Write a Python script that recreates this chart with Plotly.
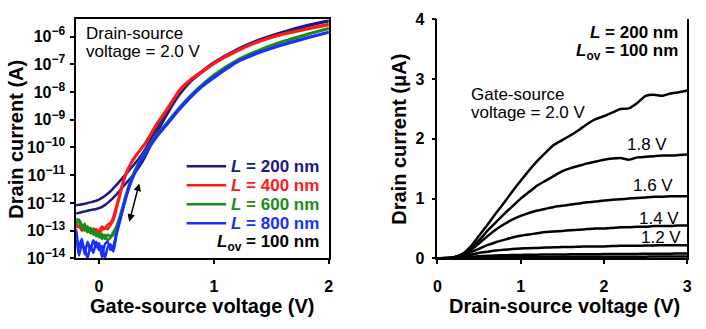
import numpy as np
import plotly.graph_objects as go

# ---------------- Left panel: transfer curves (log10 of drain current, A) ----------------
vgs = [-0.2, -0.175, -0.15, -0.125, -0.1, -0.075, -0.05, -0.025, 0.0, 0.025, 0.05, 0.075,
       0.1, 0.125, 0.15, 0.175, 0.2, 0.225, 0.25, 0.275, 0.3, 0.35, 0.4, 0.5, 0.6, 0.7,
       0.8, 0.9, 1.0, 1.2, 1.4, 1.6, 1.8, 2.0]

log_id_L200_a = [-12.08, -12.07, -12.05, -12.03, -12.0, -11.98, -11.95, -11.92, -11.88, -11.82, -11.75, -11.67,
                 -11.58, -11.47, -11.36, -11.24, -11.12, -11.0, -10.88, -10.76, -10.64, -10.38, -10.08, -9.32,
                 -8.62, -8.02, -7.57, -7.23, -6.93, -6.46, -6.1, -5.83, -5.6, -5.42]
log_id_L200_b = [-12.38, -12.36, -12.33, -12.31, -12.28, -12.26, -12.24, -12.22, -12.19, -12.14, -12.08, -12.0,
                 -11.91, -11.81, -11.7, -11.58, -11.46, -11.34, -11.22, -11.1, -10.98, -10.7, -10.35, -9.5,
                 -8.75, -8.1, -7.62, -7.28, -6.98, -6.5, -6.14, -5.87, -5.64, -5.45]
log_id_L400_a = [-12.75, -12.88, -12.8, -12.98, -12.85, -13.05, -12.92, -12.97, -13.0, -12.85, -12.93, -12.78,
                 -12.72, -12.5, -12.12, -11.74, -11.36, -11.02, -10.77, -10.57, -10.4, -10.12, -9.85, -9.15,
                 -8.55, -7.92, -7.53, -7.24, -6.95, -6.5, -6.15, -5.9, -5.72, -5.55]
log_id_L400_b = [-12.9, -12.82, -13.0, -12.88, -13.05, -12.92, -13.1, -12.95, -13.08, -12.98, -12.9, -12.95,
                 -12.8, -12.62, -12.25, -11.85, -11.45, -11.1, -10.83, -10.62, -10.45, -10.15, -9.88, -9.2,
                 -8.6, -7.97, -7.57, -7.27, -6.98, -6.53, -6.18, -5.93, -5.75, -5.58]
log_id_L600_a = [-12.55, -12.7, -12.9, -12.75, -13.05, -12.9, -13.15, -13.05, -13.25, -13.1, -13.3, -13.15,
                 -13.2, -13.05, -12.85, -12.55, -12.2, -11.83, -11.48, -11.18, -10.93, -10.5, -10.15, -9.55,
                 -9.05, -8.55, -8.1, -7.72, -7.38, -6.85, -6.47, -6.17, -5.92, -5.7]
log_id_L600_b = [-12.75, -12.6, -12.8, -13.0, -12.85, -13.1, -12.95, -13.2, -13.1, -13.3, -13.15, -13.35,
                 -13.25, -13.15, -12.95, -12.65, -12.3, -11.92, -11.56, -11.25, -10.98, -10.55, -10.2, -9.6,
                 -9.1, -8.6, -8.14, -7.75, -7.42, -6.88, -6.5, -6.2, -5.95, -5.72]
log_id_L800_a = [-12.95, -13.6, -13.3, -13.85, -13.4, -13.7, -13.35, -13.6, -13.45, -13.95, -13.5, -13.4,
                 -13.7, -13.55, -13.1, -12.7, -12.3, -11.9, -11.55, -11.25, -11.0, -10.55, -10.2, -9.6,
                 -9.1, -8.6, -8.15, -7.76, -7.45, -6.9, -6.55, -6.28, -6.05, -5.83]
log_id_L800_b = [-13.1, -13.9, -13.5, -13.65, -14.0, -13.55, -13.8, -13.4, -13.7, -13.55, -14.0, -13.6,
                 -13.5, -13.75, -13.2, -12.78, -12.38, -11.98, -11.62, -11.3, -11.05, -10.6, -10.25, -9.64,
                 -9.14, -8.64, -8.19, -7.8, -7.49, -6.93, -6.58, -6.31, -6.07, -5.85]

lengths = ["200", "400", "600", "800"]
colors = ["#1a1a80", "#ff1a1a", "#1a8c1a", "#1a2eff"]
left_series = [(log_id_L200_a, log_id_L200_b), (log_id_L400_a, log_id_L400_b),
               (log_id_L600_a, log_id_L600_b), (log_id_L800_a, log_id_L800_b)]
y_ticks_left = [1e-14, 1e-13, 1e-12, 1e-11, 1e-10, 1e-9, 1e-8, 1e-7, 1e-6]
y_tick_exponents = ["\u221214", "\u221213", "\u221212", "\u221211", "\u221210",
                    "\u22129", "\u22128", "\u22127", "\u22126"]

# ---------------- Right panel: output curves (drain current, uA) ----------------
vds = [0.0, 0.1, 0.2, 0.3, 0.4, 0.5, 0.6, 0.7, 0.8, 0.9, 1.0, 1.1, 1.2, 1.3, 1.4, 1.5,
       1.6, 1.7, 1.8, 1.9, 2.0, 2.1, 2.2, 2.3, 2.4, 2.5, 2.6, 2.7, 2.8, 2.9, 3.0]
id_vgs_2_0 = [0.0, 0.005, 0.02, 0.07, 0.2, 0.38, 0.56, 0.75, 0.93, 1.12, 1.3, 1.47, 1.63, 1.77, 1.9, 1.98,
              2.06, 2.15, 2.25, 2.33, 2.38, 2.44, 2.5, 2.51, 2.6, 2.72, 2.74, 2.72, 2.76, 2.78, 2.81]
id_vgs_1_8 = [0.0, 0.005, 0.02, 0.07, 0.17, 0.3, 0.46, 0.6, 0.74, 0.87, 1.0, 1.11, 1.22, 1.3, 1.38, 1.46,
              1.51, 1.55, 1.59, 1.62, 1.65, 1.67, 1.68, 1.65, 1.69, 1.7, 1.71, 1.72, 1.72, 1.73, 1.74]
id_vgs_1_6 = [0.0, 0.004, 0.02, 0.06, 0.14, 0.25, 0.37, 0.48, 0.57, 0.65, 0.71, 0.76, 0.8, 0.83, 0.86, 0.88,
              0.9, 0.92, 0.94, 0.95, 0.97, 0.98, 0.99, 1.0, 1.01, 1.02, 1.03, 1.03, 1.04, 1.04, 1.04]
id_vgs_1_4 = [0.0, 0.003, 0.015, 0.05, 0.1, 0.16, 0.22, 0.27, 0.31, 0.35, 0.38, 0.4, 0.42, 0.44, 0.45, 0.46,
              0.47, 0.48, 0.49, 0.5, 0.5, 0.51, 0.52, 0.52, 0.53, 0.53, 0.54, 0.54, 0.54, 0.55, 0.55]
id_vgs_1_2 = [0.0, 0.002, 0.01, 0.035, 0.06, 0.09, 0.11, 0.13, 0.145, 0.155, 0.165, 0.17, 0.175, 0.18, 0.185,
              0.19, 0.19, 0.195, 0.2, 0.2, 0.2, 0.205, 0.21, 0.21, 0.21, 0.215, 0.215, 0.22, 0.22, 0.22, 0.22]
id_vgs_1_0 = [0.0, 0.001, 0.005, 0.015, 0.025, 0.035, 0.042, 0.048, 0.052, 0.055, 0.058, 0.06, 0.062, 0.064,
              0.065, 0.066, 0.067, 0.068, 0.069, 0.07, 0.071, 0.072, 0.073, 0.074, 0.075, 0.076, 0.077, 0.078,
              0.079, 0.08, 0.08]
id_vgs_0_8 = [0.0, 0.0005, 0.002, 0.005, 0.009, 0.012, 0.015, 0.017, 0.019, 0.02, 0.021, 0.022, 0.023, 0.024,
              0.024, 0.025, 0.025, 0.026, 0.026, 0.027, 0.027, 0.028, 0.028, 0.028, 0.029, 0.029, 0.03, 0.03,
              0.03, 0.031, 0.031]
right_series = [id_vgs_2_0, id_vgs_1_8, id_vgs_1_6, id_vgs_1_4, id_vgs_1_2, id_vgs_1_0, id_vgs_0_8]

FONT = "Liberation Sans, Arial, sans-serif"
W, H = 706, 329


def px(x):
    return x / W


def py(y):
    return 1 - y / H


fig = go.Figure()

for (a, b), col in zip(left_series, colors):
    for s in (a, b):
        fig.add_trace(go.Scatter(x=vgs, y=10 ** np.array(s), mode="lines",
                                 line=dict(color=col, width=2.5, shape="spline", smoothing=0.6),
                                 showlegend=False, xaxis="x", yaxis="y"))

for s in right_series:
    fig.add_trace(go.Scatter(x=vds, y=s, mode="lines",
                             line=dict(color="black", width=2.5, shape="spline", smoothing=0.5),
                             showlegend=False, xaxis="x2", yaxis="y2"))

axis_common = dict(showgrid=False, zeroline=False, showline=True, linecolor="black", linewidth=1.5,
                   ticks="outside", ticklen=4, tickwidth=1.5, tickcolor="black",
                   tickfont=dict(family=FONT, size=16, color="black", weight="bold"))

y_ticktext_left = [f"10<sup><span style='font-size:12px'>{e}</span></sup>" for e in y_tick_exponents]

fig.update_layout(
    width=W, height=H, margin=dict(l=0, r=0, t=0, b=0),
    paper_bgcolor="white", plot_bgcolor="white",
    xaxis=dict(domain=[px(73), px(329)], range=[-0.2, 2], tickvals=[0, 1, 2], mirror=True,
               anchor="y", ticklabelstandoff=9, **axis_common),
    yaxis=dict(domain=[py(264), py(12)], type="log", range=[-14, -5.38], tickvals=y_ticks_left,
               ticktext=y_ticktext_left, mirror=True, anchor="x", ticklabelstandoff=2, **axis_common),
    xaxis2=dict(domain=[px(439), px(692)], range=[0, 3], tickvals=[0, 1, 2, 3], anchor="y2",
                ticklabelstandoff=9, **axis_common),
    yaxis2=dict(domain=[py(264), py(12)], range=[0, 4], tickvals=[0, 1, 2, 3, 4], anchor="x2",
                mirror=True, ticklabelstandoff=4, **axis_common),
)

ann = []
bold = dict(family=FONT, size=20, color="black", weight="bold")
# axis titles
ann.append(dict(x=px(201), y=py(314), text="Gate-source voltage (V)", font=bold))
ann.append(dict(x=px(12), y=py(138), text="Drain current (A)", font=bold, textangle=-90))
ann.append(dict(x=px(568), y=py(314), text="Drain-source voltage (V)", font=bold))
ann.append(dict(x=px(400), y=py(138), text="Drain current (\u03bcA)", font=bold, textangle=-90))

reg = dict(family=FONT, size=17, color="black")
ann.append(dict(x=px(81), y=py(27), text="Drain-source", font=reg, xanchor="left"))
ann.append(dict(x=px(81), y=py(46), text="voltage = 2.0 V", font=reg, xanchor="left"))

# legend of left panel
leg_rows = [167, 187, 207, 227]
shapes = []
for L, col, yy in zip(lengths, colors, leg_rows):
    shapes.append(dict(type="line", xref="paper", yref="paper", x0=px(185), x1=px(225),
                       y0=py(yy), y1=py(yy), line=dict(color=col, width=2.5)))
    ann.append(dict(x=px(321), y=py(yy), xanchor="right",
                    text=f"<i>L</i> = {L} nm",
                    font=dict(family=FONT, size=17, color=col, weight="bold")))
ann.append(dict(x=px(321), y=py(248), xanchor="right",
                text="<i>L</i><sub>ov</sub> = 100 nm",
                font=dict(family=FONT, size=17, color="black", weight="bold")))

# double arrow
ann.append(dict(x=0.35, y=-11.3, ax=0.26, ay=-12.73, xref="x", yref="y", axref="x", ayref="y",
                text="", showarrow=True, arrowhead=2, startarrowhead=2, arrowside="end+start",
                arrowwidth=1.5, arrowsize=1, startarrowsize=1, arrowcolor="black"))

# right panel labels
ann.append(dict(x=px(685), y=py(26), xanchor="right", text="<i>L</i> = 200 nm",
                font=dict(family=FONT, size=17, color="black", weight="bold")))
ann.append(dict(x=px(685), y=py(46), xanchor="right", text="<i>L</i><sub>ov</sub> = 100 nm",
                font=dict(family=FONT, size=17, color="black", weight="bold")))
ann.append(dict(x=px(471), y=py(91), xanchor="left", text="Gate-source", font=reg))
ann.append(dict(x=px(471), y=py(110), xanchor="left", text="voltage = 2.0 V", font=reg))
for lab, xx, yy in [("1.8 V", 674, 144), ("1.6 V", 680, 187), ("1.4 V", 686, 222), ("1.2 V", 688, 242)]:
    ann.append(dict(x=px(xx), y=py(yy), xanchor="right", text=lab, font=reg))

for a in ann:
    a.setdefault("xref", "paper")
    a.setdefault("yref", "paper")
    a.setdefault("showarrow", False)
    a.setdefault("xanchor", "center")
    a.setdefault("yanchor", "middle")
    fig.add_annotation(**a)

for s in shapes:
    fig.add_shape(**s)

fig.write_html("out.html")
